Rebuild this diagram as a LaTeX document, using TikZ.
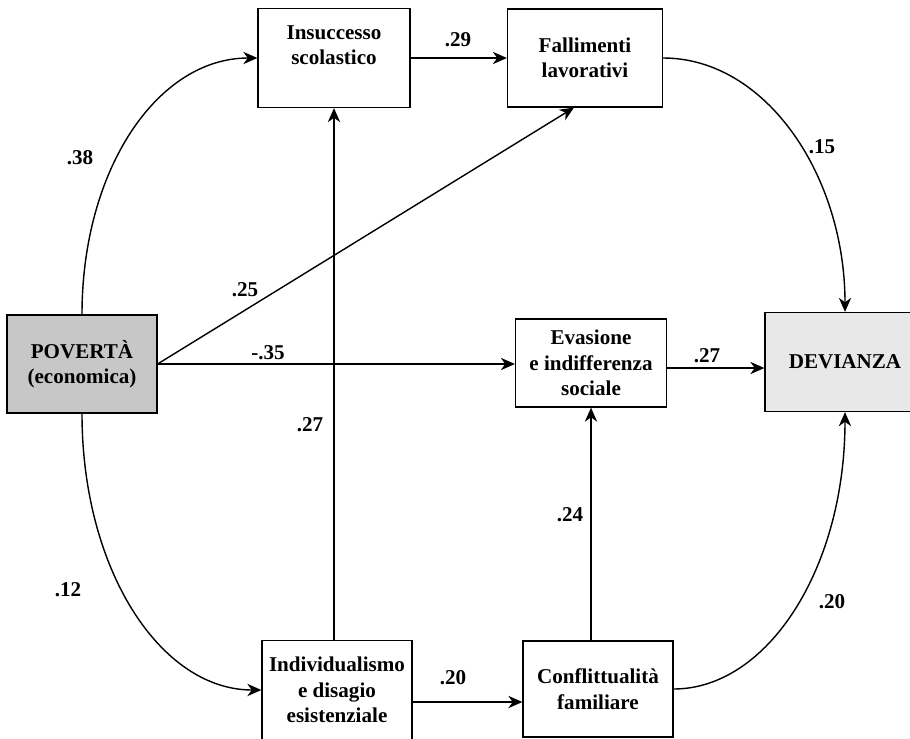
\documentclass[tikz,border=0pt]{standalone}
\usepackage{fontspec}
\setmainfont{Liberation Serif}
\usetikzlibrary{arrows.meta}

\tikzset{
  box/.style={draw, rectangle, line width=0.7pt, align=center,
    font=\bfseries\fontsize{12}{14.5}\selectfont},
  lbl/.style={font=\bfseries\fontsize{12}{14}\selectfont},
  arr/.style={line width=0.8pt, -{Stealth[length=8pt,width=7pt,inset=2.5pt]}}
}

\begin{document}
\begin{tikzpicture}[x=0.02cm, y=-0.02cm]
  \useasboundingbox (0,0) rectangle (910,738);

  % boxes
  \node[box, fill=black!22, minimum width=3cm, minimum height=1.96cm] (pov) at (82,364) {POVERT\`A\\(economica)};
  \node[box, minimum width=3.04cm, minimum height=1.98cm] (ins) at (334,58) {Insuccesso\\scolastico\\~};
  \node[box, minimum width=3.1cm, minimum height=1.96cm] (fal) at (585,58) {Fallimenti\\lavorativi};
  \node[box, minimum width=3.02cm, minimum height=1.76cm] (eva) at (591,363) {Evasione\\e indifferenza\\sociale};
  \node[box, fill=black!9, minimum width=3.2cm, minimum height=1.98cm] (dev) at (845,362) {DEVIANZA};
  \node[box, minimum width=3cm, minimum height=1.98cm] (ind) at (337,690) {Individualismo\\e disagio\\esistenziale};
  \node[box, minimum width=3cm, minimum height=1.92cm] (con) at (598,689) {Conflittualit\`a\\familiare};

  % connectors
  \draw[arr] (pov.north) .. controls +(0,-145) and +(-100,0) .. (ins.west);
  \draw[arr] (ins.east) -- (fal.west);
  \draw[arr] (fal.east) .. controls +(103,0) and +(0,-136) .. (dev.north);
  \draw[arr] (pov.east) -- ([xshift=-0.22cm]fal.south);
  \draw[arr] (pov.east) -- (pov.east -| eva.west);
  \draw[arr] ([yshift=-0.1cm]eva.east) -- ([yshift=-0.1cm]eva.east -| dev.west);
  \draw[arr] (pov.south) .. controls +(0,156) and +(-101,0) .. (ind.west);
  \draw[arr] (ins.south |- ind.north) -- (ins.south);
  \draw[arr] ([yshift=-0.24cm]ind.east) -- ([yshift=-0.24cm]ind.east -| con.west);
  \draw[arr] (eva.south |- con.north) -- (eva.south);
  \draw[arr] (con.east) .. controls +(94,0) and +(0,156) .. (dev.south);

  % coefficients
  \node[lbl] (w38) at (80,158) {.38};
  \node[lbl] (w29) at (458,40) {.29};
  \node[lbl] (w15) at (822,147) {.15};
  \node[lbl] (w25) at (245,290) {.25};
  \node[lbl] (w35) at (268,353) {-.35};
  \node[lbl] (w27a) at (707,356) {.27};
  \node[lbl] (w12) at (68,590) {.12};
  \node[lbl] (w27b) at (310,425) {.27};
  \node[lbl] (w20a) at (453,678) {.20};
  \node[lbl] (w24) at (570,515) {.24};
  \node[lbl] (w20b) at (832,602) {.20};
\end{tikzpicture}
\end{document}
